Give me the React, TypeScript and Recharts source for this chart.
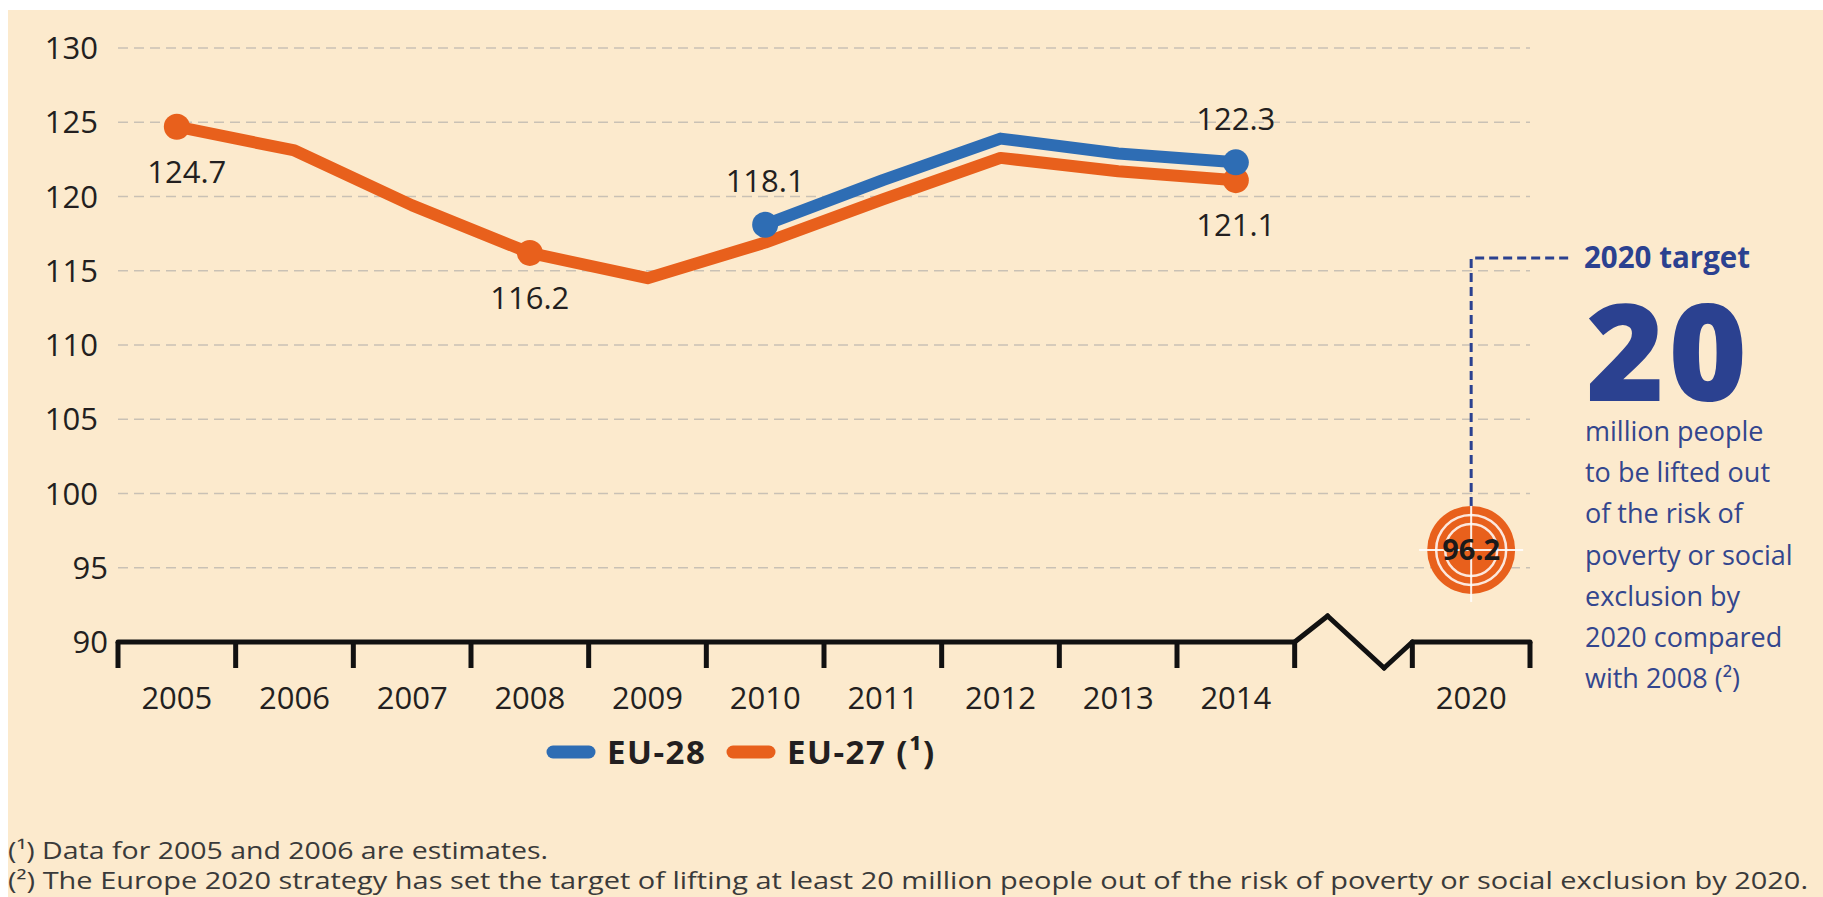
import React from 'react';
import { LineChart, Line, XAxis, YAxis, ReferenceLine, ReferenceDot } from 'recharts';

// categories (index 10 is the axis break before 2020)
const years = ['2005', '2006', '2007', '2008', '2009', '2010', '2011', '2012', '2013', '2014', '', '2020'];
const eu27Values = [124.7, 123.1, 119.4, 116.2, 114.5, 116.9, 119.8, 122.6, 121.7, 121.1, null, null];
const eu28Values = [null, null, null, null, null, 118.1, 121.1, 123.9, 122.9, 122.3, null, null];
const yTicks = [90, 95, 100, 105, 110, 115, 120, 125, 130];
const gridValues = [95, 100, 105, 110, 115, 120, 125, 130];
const targetYear = '2020';
const targetValue = 96.2;

// which points get a dot + value label, and where the label sits
const eu27Labels: Record<string, 'above' | 'below'> = { '2005': 'below', '2008': 'below', '2014': 'below' };
const eu28Labels: Record<string, 'above' | 'below'> = { '2010': 'above', '2014': 'above' };

const targetLines = [
  'million people',
  'to be lifted out',
  'of the risk of',
  'poverty or social',
  'exclusion by',
  '2020 compared',
  'with 2008 (²)',
];
const footnotes = [
  '(¹) Data for 2005 and 2006 are estimates.',
  '(²) The Europe 2020 strategy has set the target of lifting at least 20 million people out of the risk of poverty or social exclusion by 2020.',
];

const ORANGE = '#E8601C';
const BLUE = '#2E6DB4';
const NAVY = '#2B4190';
const INK = '#231F20';
const CREAM = '#FCEACD';
const FONT = "'Open Sans', sans-serif";

const series = [
  { key: 'eu28', name: 'EU-28', color: BLUE },
  { key: 'eu27', name: 'EU-27 (¹)', color: ORANGE },
];

const data = years.map((year, i) => ({ pos: i, year, eu27: eu27Values[i], eu28: eu28Values[i] }));

const centers = years.map((_, i) => i).filter((i) => years[i] !== '');
const boundaries = years.map((_, i) => i - 0.5).concat(years.length - 0.5);
const breakIdx = years.indexOf('');
const targetIdx = years.indexOf(targetYear);
const tickDepth = 1.75; // tick mark length below the axis, in axis units

type Pt = { x: number; y: number };
const axisSegments: Array<[Pt, Pt]> = [
  [{ x: -0.5, y: 90 }, { x: breakIdx - 0.5, y: 90 }],
  [{ x: breakIdx - 0.5, y: 90 }, { x: breakIdx - 0.22, y: 91.75 }],
  [{ x: breakIdx - 0.22, y: 91.75 }, { x: breakIdx + 0.26, y: 88.25 }],
  [{ x: breakIdx + 0.26, y: 88.25 }, { x: breakIdx + 0.5, y: 90 }],
  [{ x: breakIdx + 0.5, y: 90 }, { x: years.length - 0.5, y: 90 }],
];
const tickSegments: Array<[Pt, Pt]> = boundaries.map((b) => [
  { x: b, y: 90 },
  { x: b, y: 90 - tickDepth },
]);

const makeDot = (labels: Record<string, 'above' | 'below'>, color: string) => (props: any) => {
  const { cx, cy, payload, value, index } = props;
  const side = labels[payload?.year];
  if (cx == null || cy == null || !side || value == null) return <g key={index} />;
  const dx = payload.year === '2005' ? 10 : 0;
  const dy = side === 'above' ? -44 : 45;
  return (
    <g key={index}>
      <circle cx={cx} cy={cy} r={13} fill={color} />
      <text x={cx + dx} y={cy + dy} dy="0.36em" textAnchor="middle" fontFamily={FONT} fontSize={31} fill={INK}>
        {Number(value).toFixed(1)}
      </text>
    </g>
  );
};

const YTick = (props: any) => {
  const { x, y, payload } = props;
  const shift = payload.value < 100 ? 10 : 0;
  return (
    <text x={x + shift} y={y} dy="0.36em" textAnchor="end" fontFamily={FONT} fontSize={31} fill={INK}>
      {payload.value}
    </text>
  );
};

const TargetMark = (props: any) => {
  const { cx, cy } = props;
  const r = 44;
  return (
    <g>
      <path
        d={`M${cx},${cy - r} V${cy - 292} H${cx + 100}`}
        stroke={NAVY}
        strokeWidth={3}
        strokeDasharray="9 5"
        fill="none"
      />
      <circle cx={cx} cy={cy} r={r} fill={ORANGE} />
      <circle cx={cx} cy={cy} r={35} fill="none" stroke="#fff" strokeWidth={2.5} opacity={0.85} />
      <circle cx={cx} cy={cy} r={26} fill="none" stroke="#fff" strokeWidth={2.5} opacity={0.85} />
      <line x1={cx - 52} x2={cx + 52} y1={cy} y2={cy} stroke="#fff" strokeWidth={2} opacity={0.9} />
      <line x1={cx} x2={cx} y1={cy - r} y2={cy + 52} stroke="#fff" strokeWidth={2} opacity={0.9} />
      <text x={cx} y={cy} dy="0.36em" textAnchor="middle" fontFamily={FONT} fontWeight={700} fontSize={29} fill="#1a1a1a">
        {targetValue}
      </text>
    </g>
  );
};

export default function App() {
  return (
    <div style={{ position: 'absolute', left: 0, top: 0, width: 1823, height: 897, overflow: 'hidden', background: '#fff' }}>
      <style>{'body{margin:0;overflow:hidden}'}</style>
      <div style={{ position: 'absolute', left: 8, top: 10, right: 0, bottom: 0, background: CREAM }} />
      <div style={{ position: 'absolute', left: 0, top: 0 }}>
        <LineChart width={1823} height={897} data={data} margin={{ top: 48, right: 293, bottom: 195, left: 18 }}>
          <XAxis
            dataKey="pos"
            type="number"
            domain={[-0.5, years.length - 0.5]}
            ticks={centers}
            height={60}
            axisLine={false}
            tickLine={false}
            tickSize={0}
            tickMargin={45}
            tickFormatter={(v: number) => years[v] ?? ''}
            tick={{ fontFamily: FONT, fontSize: 31, fill: INK }}
          />
          <YAxis
            domain={[90, 130]}
            ticks={yTicks}
            width={100}
            axisLine={false}
            tickLine={false}
            tickSize={0}
            tickMargin={20}
            tick={<YTick />}
          />
          {gridValues.map((v) => (
            <ReferenceLine key={v} y={v} stroke="#C9C1B5" strokeWidth={1.5} strokeDasharray="10 6" />
          ))}
          {tickSegments.map((seg, i) => (
            <ReferenceLine key={`tk${i}`} segment={seg} stroke="#111" strokeWidth={5} ifOverflow="visible" />
          ))}
          {axisSegments.map((seg, i) => (
            <ReferenceLine
              key={`ax${i}`}
              segment={seg}
              stroke="#111"
              strokeWidth={5}
              strokeLinecap="round"
              ifOverflow="visible"
            />
          ))}
          <Line
            dataKey="eu27"
            stroke={ORANGE}
            strokeWidth={12}
            strokeLinejoin="round"
            strokeLinecap="round"
            dot={makeDot(eu27Labels, ORANGE)}
            activeDot={false}
            isAnimationActive={false}
          />
          <Line
            dataKey="eu28"
            stroke={BLUE}
            strokeWidth={12}
            strokeLinejoin="round"
            strokeLinecap="round"
            dot={makeDot(eu28Labels, BLUE)}
            activeDot={false}
            isAnimationActive={false}
          />
          <ReferenceDot x={targetIdx} y={targetValue} r={44} ifOverflow="visible" shape={<TargetMark />} />
        </LineChart>
      </div>
      <svg width={1823} height={897} style={{ position: 'absolute', left: 0, top: 0, pointerEvents: 'none' }}>
        <text x={1584} y={268} fontFamily={FONT} fontWeight={700} fontSize={29.5} fill={NAVY}>
          2020 target
        </text>
        <text x={1586} y={401} fontFamily={FONT} fontWeight={800} fontSize={134} fill={NAVY} letterSpacing={4}>
          20
        </text>
        {targetLines.map((line, i) => (
          <text key={line} x={1585} y={441 + i * 41.2} fontFamily={FONT} fontWeight={500} fontSize={27} fill="#33468E">
            {line}
          </text>
        ))}
        {series.map((s, i) => {
          const x0 = i === 0 ? 553 : 733;
          return (
            <g key={s.key}>
              <line x1={x0} x2={x0 + 36} y1={752} y2={752} stroke={s.color} strokeWidth={13} strokeLinecap="round" />
              <text x={x0 + 54} y={764} fontFamily={FONT} fontWeight={700} fontSize={33} letterSpacing={1.5} fill={INK}>
                {s.name}
              </text>
            </g>
          );
        })}
        <text x={8} y={859} fontFamily={FONT} fontSize={24} fill="#3A3A3A" textLength={540} lengthAdjust="spacingAndGlyphs">
          {footnotes[0]}
        </text>
        <text x={8} y={889} fontFamily={FONT} fontSize={24} fill="#3A3A3A" textLength={1800} lengthAdjust="spacingAndGlyphs">
          {footnotes[1]}
        </text>
      </svg>
    </div>
  );
}
